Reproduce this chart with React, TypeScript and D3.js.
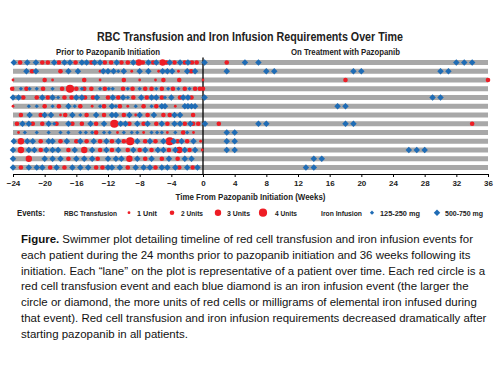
import * as d3 from 'd3'
import { useEffect, useRef } from 'react'

// weeks shown on the x axis
const weekTicks = [-24, -20, -16, -12, -8, -4, 0, 4, 8, 12, 16, 20, 24, 28, 32, 36]
const patients = d3.range(1, 14)

// RBC transfusions, one list per patient: [week, units]
const rbc01 = [[-23.1, 2], [-20.3, 2], [-19.6, 2], [-18.2, 2], [-16.1, 2], [-14.1, 2], [-12.4, 2], [-11.6, 2], [-10.3, 2], [-9.5, 2], [-8.1, 3], [-7.6, 2], [-6.3, 2], [-5.1, 3], [-4.6, 2], [-3.6, 2], [-2.3, 2], [-1.4, 2], [-0.8, 2], [3, 2]]
const rbc02 = [[-21.6, 2], [-18, 2], [-13, 1], [-9, 1], [-5.6, 1], [-3.1, 1], [-1.5, 2]]
const rbc03 = [[-24, 1], [-20, 2], [-19, 1], [-15, 2], [-13, 1], [-10, 2], [-8, 1], [-6, 1], [-5, 2], [-3, 2], [0, 1], [18, 2], [36, 2]]
const rbc04 = [[-24.1, 2], [-22.3, 2], [-20.2, 2], [-17.8, 2], [-16.8, 4], [-16, 2], [-15, 2], [-14.1, 2], [-12.4, 2], [-10.1, 2], [-8.9, 2], [-7.3, 2], [-6.5, 2], [-5.2, 2], [-3.8, 2], [-2.3, 2], [-1, 2], [-0.4, 2], [0, 2]]
const rbc05 = [[-22.7, 2], [-21, 2], [-19.6, 2], [-17.5, 2], [-16.6, 2], [-14.9, 2], [-13.9, 2], [-12, 2], [-10.7, 2], [-8.8, 2], [-7.1, 2], [-5.2, 2], [-2.9, 2], [-1.45, 2]]
const rbc06 = [[-24, 1], [-20, 2], [-18.2, 2], [-15.5, 2], [-14, 1], [-12.5, 2], [-10.5, 2], [-9.5, 1], [-7.5, 2], [-5.9, 2], [-3.5, 1]]
const rbc07 = [[-23, 2], [-20.5, 2], [-18, 1], [-17.4, 2], [-14.7, 2], [-12.5, 2], [-10, 2], [-8.5, 1], [-7, 2], [-5, 2], [-4.2, 2], [-1.25, 2]]
const rbc08 = [[-23.5, 2], [-21.5, 2], [-20.3, 2], [-18.5, 2], [-16.5, 2], [-15.3, 2], [-13.5, 2], [-11.2, 4], [-9.3, 2], [-7.5, 2], [-5.9, 2], [-4.5, 2], [-2.3, 2], [-1.25, 2], [-0.6, 2], [2, 2], [34, 2]]
const rbc09 = [[-23.3, 1], [-13.5, 2], [-10.8, 1], [-7.5, 1], [-4.5, 1], [-2.5, 2], [-1.2, 1]]
const rbc10 = [[-23, 3], [-20.5, 2], [-18, 2], [-16, 2], [-14.7, 2], [-13, 2], [-11.5, 2], [-10, 2], [-9.2, 4], [-7.3, 2], [-6, 2], [-4.2, 4], [-3.2, 2], [-2, 2], [-0.3, 1]]
const rbc11 = [[-23, 3], [-20.5, 2], [-17, 2], [-15, 3], [-13, 2], [-11.5, 2], [-9.5, 2], [-8, 2], [-6.5, 2], [-4.3, 2], [-3, 3], [-1.7, 2], [-0.1, 1]]
const rbc12 = [[-22, 3], [-17, 2], [-13.3, 2], [-9.3, 3], [-7.3, 2], [-5.2, 2], [-3.2, 2]]
const rbc13 = [[-23, 2], [-19.3, 2], [-17.5, 2], [-13.5, 2], [-12.7, 2], [-9.5, 2], [-6, 2], [-3, 2], [-1.3, 2]]

// iron infusions, one list per patient: [week, dose class] (1 = 125-250 mg, 2 = 500-750 mg)
const iron01 = [[-23.9, 2], [-22.2, 2], [-21.1, 2], [-18.8, 2], [-17.5, 2], [-16.8, 2], [-15.3, 2], [-14.7, 2], [-13.7, 2], [-13, 2], [-10.9, 2], [-8.8, 2], [-6.9, 2], [-5.9, 2], [-4.2, 2], [-2.9, 2], [-1.9, 2], [0.2, 2], [5.3, 2], [7, 2], [32, 2], [33, 2], [34, 2]]
const iron02 = [[-22.3, 2], [-21.1, 2], [-17, 2], [-15.8, 2], [-12.6, 2], [-12, 2], [-11.3, 2], [-10.7, 1], [-10, 2], [-8, 2], [-6.9, 2], [-5.1, 2], [-4.5, 2], [-3.9, 2], [-2, 2], [-1, 2], [3, 2], [8, 2], [9, 2], [19, 2], [20, 2], [30, 2], [31, 2]]
const iron03: number[][] = []
const iron04 = [[-23, 1], [-21.9, 1], [-21, 1], [-19, 1], [-15.3, 1], [-13, 1], [-11.9, 1], [-11.4, 1], [-9.5, 1], [-8, 1], [-5.9, 1], [-4.4, 1], [-3.1, 1], [-1.7, 1]]
const iron05 = [[-24, 2], [-23.3, 2], [-20.3, 2], [-19, 2], [-18.3, 1], [-16, 2], [-15.3, 2], [-13.4, 2], [-11.4, 2], [-10.1, 2], [-9.5, 1], [-7.8, 2], [-6.5, 2], [-5.9, 2], [-4.8, 1], [-4, 2], [-2.5, 2], [-1.9, 2], [0.2, 2], [29, 2], [30, 2]]
const iron06 = [[-22, 1], [-21, 1], [-19, 1], [-17, 2], [-16.2, 1], [-13, 1], [-11.5, 2], [-11, 1], [-8.5, 1], [-6.5, 1], [-5.2, 2], [-4.8, 2], [-2.3, 2], [-1.9, 2], [-1.45, 2], [-1, 2], [17, 2], [18, 2]]
const iron07 = [[-21.9, 2], [-20, 2], [-19.2, 2], [-16.5, 2], [-15.5, 1], [-13.5, 2], [-11.5, 2], [-11, 2], [-9.3, 2], [-8, 2], [-6.2, 2], [-3.6, 2], [-2.9, 2]]
const iron08 = [[-22.8, 2], [-22, 2], [-19.5, 2], [-18.8, 1], [-17, 2], [-14.2, 2], [-12.5, 2], [-10.4, 2], [-9.8, 2], [-8.3, 2], [-7, 2], [-5.2, 2], [-3.6, 2], [-2.9, 2], [-1.6, 2], [0.25, 2], [7, 2], [8, 2], [18, 2], [19, 2]]
const iron09 = [[-22.5, 1], [-21, 1], [-19.5, 1], [-18, 1], [-17, 1], [-15.5, 1], [-14.8, 1], [-14, 1], [-12.5, 1], [-11.8, 1], [-10, 1], [-9, 1], [-8.3, 1], [-6.5, 1], [-5.8, 1], [-5.2, 1], [-3.5, 1], [-2, 1], [3, 2], [4, 2]]
const iron10 = [[-23.9, 2], [-22.2, 2], [-21.5, 2], [-19.5, 2], [-19, 2], [-17.2, 2], [-15.5, 2], [-13.8, 2], [-12.2, 2], [-10.7, 2], [-8.3, 2], [-6.7, 2], [-5, 2], [-3.7, 2], [-2.7, 2], [-1.2, 2], [3, 2], [4, 2]]
const iron11 = [[-24, 2], [-22, 2], [-21.3, 2], [-19.8, 2], [-19, 2], [-18.3, 2], [-16.2, 2], [-14, 2], [-12.2, 2], [-10.7, 2], [-8.8, 2], [-7.3, 2], [-5.7, 2], [-5, 2], [-3.5, 2], [-2.3, 2], [-1, 2], [3, 2], [4, 2], [26, 2], [27, 2], [28, 2]]
const iron12 = [[-24, 2], [-20, 2], [-19, 2], [-18, 2], [-16, 2], [-15, 2], [-14, 2], [-12, 2], [-11, 2], [-10.3, 2], [-8.3, 2], [-6.5, 2], [-4.3, 2], [-2.3, 2], [-1.45, 2], [14, 2], [15, 2]]
const iron13 = [[-24, 2], [-22, 2], [-21, 2], [-20.3, 2], [-18.5, 2], [-16.5, 2], [-15.5, 2], [-14.5, 2], [-12, 2], [-11.5, 2], [-10.5, 2], [-8.5, 2], [-7.5, 2], [-6.7, 2], [-5.2, 2], [-4.5, 2], [-3.5, 2], [-2, 2], [-0.7, 2], [13, 2], [14, 2]]

const rbcByPatient = [rbc01, rbc02, rbc03, rbc04, rbc05, rbc06, rbc07, rbc08, rbc09, rbc10, rbc11, rbc12, rbc13]
const ironByPatient = [iron01, iron02, iron03, iron04, iron05, iron06, iron07, iron08, iron09, iron10, iron11, iron12, iron13]

const rbcUnits = [1, 2, 3, 4]
const rbcLabels = ['1 Unit', '2 Units', '3 Units', '4 Units']
const ironDoses = [1, 2]
const ironLabels = ['125-250 mg', '500-750 mg']

const captionLines = [
  'Swimmer plot detailing timeline of red cell transfusion and iron infusion events for',
  'each patient during the 24 months prior to pazopanib initiation and 36 weeks following its',
  'initiation. Each \u201clane\u201d on the plot is representative of a patient over time. Each red circle is a',
  'red cell transfusion event and each blue diamond is an iron infusion event (the larger the',
  'circle or diamond, the more units of red cells or milligrams of elemental iron infused during',
  'that event). Red cell transfusion and iron infusion requirements decreased dramatically after',
  'starting pazopanib in all patients.',
]

const RED = '#ee1d25'
const BLUE = '#1f6cb5'
const GREY = '#a8a8a8'
const BOLD = '"Liberation Sans Narrow", "Liberation Sans", Arial, sans-serif'
const SANS = '"Liberation Sans", Arial, sans-serif'

const App = () => {
  const svgRef = useRef<SVGSVGElement>(null)

  useEffect(() => {
    const svg = d3.select(svgRef.current)
    svg.selectAll('*').remove()

    const x = d3.scaleLinear().domain([-24, 36]).range([13, 488])
    const y = d3.scalePoint<number>().domain(patients).range([62.5, 167.5])
    const axisY = 174
    const rScale = d3.scaleLinear().domain([1, 4]).range([1.4, 4.1])
    const diamondSize = d3.scaleOrdinal<number, number>().domain(ironDoses).range([9, 21])
    const diamond = (size: number) => d3.symbol(d3.symbolSquare, size)()

    // condensed bold label squeezed to the width it has in the figure
    const label = (
      parent: d3.Selection<any, unknown, null, undefined>,
      txt: string,
      px: number,
      py: number,
      size: number,
      width: number,
      anchor = 'start'
    ) =>
      parent
        .append('text')
        .attr('x', px)
        .attr('y', py)
        .attr('text-anchor', anchor)
        .attr('textLength', width)
        .attr('lengthAdjust', 'spacingAndGlyphs')
        .style('font-family', BOLD)
        .style('font-weight', 'bold')
        .style('font-size', `${size}px`)
        .style('fill', '#222')
        .text(txt)

    // titles
    label(svg, 'RBC Transfusion and Iron Infusion Requirements Over Time', 250, 40.8, 12.6, 306, 'middle')
    label(svg, 'Prior to Pazopanib Initiation', 108, 54.5, 8.6, 104, 'middle')
    label(svg, 'On Treatment with Pazopanib', 345.5, 54.5, 8.6, 109, 'middle')

    // lanes
    svg
      .append('g')
      .selectAll('rect')
      .data(patients)
      .enter()
      .append('rect')
      .attr('x', x(-24))
      .attr('y', (d) => (y(d) as number) - 2.5)
      .attr('width', x(36) - x(-24))
      .attr('height', 5)
      .attr('fill', GREY)

    // week 0 reference line
    svg
      .append('line')
      .attr('x1', x(0))
      .attr('x2', x(0))
      .attr('y1', 57.5)
      .attr('y2', axisY)
      .attr('stroke', '#000')
      .attr('stroke-width', 1.3)

    // events
    const events = svg.append('g')
    patients.forEach((p, i) => {
      const cy = y(p) as number
      events
        .append('g')
        .selectAll('circle')
        .data(rbcByPatient[i])
        .enter()
        .append('circle')
        .attr('cx', (d) => x(d[0]))
        .attr('cy', cy)
        .attr('r', (d) => rScale(d[1]))
        .attr('fill', RED)
      events
        .append('g')
        .selectAll('path')
        .data(ironByPatient[i])
        .enter()
        .append('path')
        .attr('d', (d) => diamond(diamondSize(d[1])))
        .attr('transform', (d) => `translate(${x(d[0])},${cy}) rotate(45)`)
        .attr('fill', BLUE)
    })

    // x axis
    const xAxis = d3.axisBottom(x).tickValues(weekTicks).tickSize(3).tickSizeOuter(0).tickPadding(3)
    const axisG = svg.append('g').attr('transform', `translate(0, ${axisY})`).call(xAxis)
    axisG.select('.domain').attr('stroke', '#000').attr('stroke-width', 1.2)
    axisG.selectAll('.tick line').attr('stroke', '#000')
    axisG
      .selectAll('.tick text')
      .style('font-family', BOLD)
      .style('font-weight', 'bold')
      .style('font-size', '8px')
      .style('fill', '#222')

    label(svg, 'Time From Pazopanib Initiation (Weeks)', 250.5, 200, 9, 150, 'middle')

    // legend
    const legend = svg.append('g')
    const ly = 212.7
    label(legend, 'Events:', 17, ly + 3.2, 9, 28)
    label(legend, 'RBC Transfusion', 64, ly + 2.8, 8, 53)
    const rbcX = [129, 172, 218, 263]
    const rbcTextX = [137, 181, 227, 275]
    const rbcTextW = [20, 22, 23, 22]
    rbcUnits.forEach((u, i) => {
      legend.append('circle').attr('cx', rbcX[i]).attr('cy', ly).attr('r', rScale(u)).attr('fill', RED)
      label(legend, rbcLabels[i], rbcTextX[i], ly + 2.8, 8, rbcTextW[i])
    })
    label(legend, 'Iron Infusion', 321, ly + 2.8, 8, 41)
    const ironX = [372, 437]
    const ironTextX = [380, 445]
    const ironTextW = [40, 38]
    ironDoses.forEach((dose, i) => {
      legend
        .append('path')
        .attr('d', diamond(diamondSize(dose)))
        .attr('transform', `translate(${ironX[i]},${ly}) rotate(45)`)
        .attr('fill', BLUE)
      label(legend, ironLabels[i], ironTextX[i], ly + 2.8, 8, ironTextW[i])
    })

    // caption
    const caption = svg
      .append('text')
      .style('font-family', SANS)
      .style('font-size', '11.46px')
      .style('fill', '#111')
    captionLines.forEach((line, i) => {
      const t = caption.append('tspan').attr('x', 21).attr('y', 243 + i * 15.75)
      if (i === 0) {
        t.append('tspan').style('font-weight', 'bold').text('Figure.')
        t.append('tspan').text(' ' + line)
      } else {
        t.text(line)
      }
    })
  }, [])

  return (
    <svg
      ref={svgRef}
      width={500}
      height={373}
      style={{ position: 'absolute', left: 0, top: 0, background: '#fff' }}
    />
  )
}

export default App
